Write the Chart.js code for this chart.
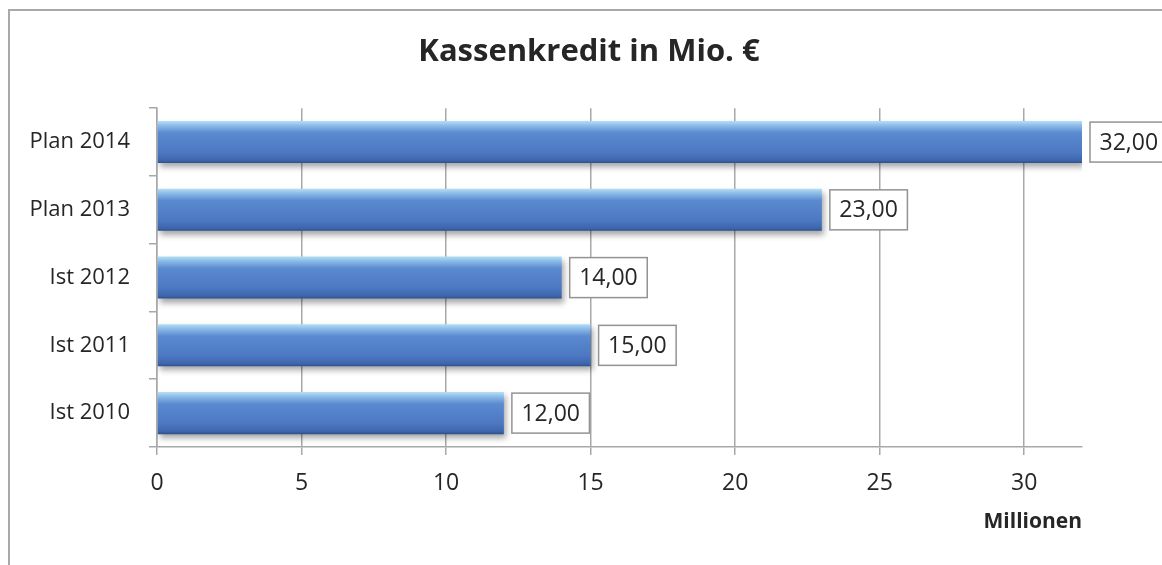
<!DOCTYPE html>
<html lang="de">
<head>
  <meta charset="UTF-8">
  <title>Kassenkredit in Mio. €</title>
  <script src="https://cdn.jsdelivr.net/npm/chart.js"></script>
  <style>
    html, body { margin: 0; padding: 0; background: #fff; overflow: hidden; }
    .frame {
      position: absolute; left: 8px; top: 9px; width: 1300px; height: 700px;
      border-left: 2px solid #a9a9a9; border-top: 2px solid #a9a9a9;
    }
    #chart { position: absolute; left: 0; top: 0; }
  </style>
</head>
<body>
  <div class="frame"></div>
  <canvas id="chart" width="1162" height="565"></canvas>

  <script>
    // data
    const categories = ['Plan 2014', 'Plan 2013', 'Ist 2012', 'Ist 2011', 'Ist 2010'];
    const values = [32, 23, 14, 15, 12];
    const xTickValues = [0, 5, 10, 15, 20, 25, 30];
    const xMax = 32;

    const textColor = '#262626';
    const lineColor = '#a8a8a8';
    const font = '"Open Sans", sans-serif';
    const barPct = 0.62;
    const padLeft = 20;
    const padRight = 4;

    function barFill(c) {
      const chart = c.chart;
      const ys = chart.scales.y;
      if (!ys || c.type !== 'data') return '#4f81bd';
      const yc = ys.getPixelForValue(c.dataIndex);
      const half = ys.height / categories.length * barPct / 2;
      if (!isFinite(yc) || !isFinite(half) || half <= 0) return '#4f81bd';
      const g = chart.ctx.createLinearGradient(0, yc - half, 0, yc + half);
      g.addColorStop(0, '#b5def5');
      g.addColorStop(0.1, '#8dbde9');
      g.addColorStop(0.28, '#5b8ad0');
      g.addColorStop(0.75, '#4c78c2');
      g.addColorStop(0.94, '#3d65ab');
      g.addColorStop(1, '#2c4e8c');
      return g;
    }

    // drop shadow under the bars
    const barShadow = {
      id: 'barShadow',
      beforeDatasetsDraw(chart) {
        const ctx = chart.ctx;
        ctx.save();
        ctx.shadowColor = 'rgba(0,0,0,0.35)';
        ctx.shadowBlur = 6;
        ctx.shadowOffsetX = 2;
        ctx.shadowOffsetY = 4;
      },
      afterDatasetsDraw(chart) {
        chart.ctx.restore();
      }
    };

    // boxed value labels right of each bar
    const valueBoxes = {
      id: 'valueBoxes',
      afterDatasetsDraw(chart) {
        const ctx = chart.ctx;
        const meta = chart.getDatasetMeta(0);
        ctx.save();
        ctx.font = '23px ' + font;
        ctx.textAlign = 'center';
        ctx.textBaseline = 'middle';
        meta.data.forEach((bar, i) => {
          const txt = values[i].toFixed(2).replace('.', ',');
          const w = ctx.measureText(txt).width + 19;
          const h = 40;
          const x = bar.x + 8;
          const y = bar.y - h / 2;
          ctx.fillStyle = '#fff';
          ctx.fillRect(x, y, w, h);
          ctx.strokeStyle = '#939393';
          ctx.lineWidth = 1.5;
          ctx.strokeRect(x, y, w, h);
          ctx.fillStyle = textColor;
          ctx.fillText(txt, x + w / 2, bar.y + 1);
        });
        ctx.restore();
      }
    };

    new Chart(document.getElementById('chart'), {
      type: 'bar',
      data: {
        labels: categories,
        datasets: [{
          data: values,
          backgroundColor: barFill,
          borderWidth: 0,
          barPercentage: barPct,
          categoryPercentage: 1
        }]
      },
      options: {
        indexAxis: 'y',
        responsive: false,
        animation: false,
        devicePixelRatio: 1,
        layout: { padding: { top: 0, right: padRight, bottom: 0, left: padLeft } },
        plugins: {
          legend: { display: false },
          tooltip: { enabled: false },
          title: {
            display: true,
            text: 'Kassenkredit in Mio. €',
            color: textColor,
            font: { family: font, size: 31, weight: 'bold' },
            padding: { top: 34, bottom: 37 }
          }
        },
        scales: {
          y: {
            afterFit(scale) { scale.width = 157 - padLeft; },
            grid: {
              drawOnChartArea: false,
              offset: true,
              tickLength: 8,
              color: lineColor,
              lineWidth: 1.5
            },
            border: { color: lineColor, width: 1.5 },
            ticks: {
              color: textColor,
              font: { family: font, size: 22 },
              padding: 19
            }
          },
          // empty right-hand axis that only reserves room for the value boxes
          yRight: {
            type: 'category',
            position: 'right',
            labels: categories,
            afterFit(scale) { scale.width = 1162 - padRight - 1082; },
            grid: { display: false },
            border: { display: false },
            ticks: { display: false }
          },
          x: {
            min: 0,
            max: xMax,
            afterBuildTicks(scale) { scale.ticks = xTickValues.map(v => ({ value: v })); },
            afterFit(scale) { scale.height = 118; },
            grid: { color: lineColor, lineWidth: 1.5, tickLength: 8 },
            border: { color: lineColor, width: 1.5 },
            ticks: {
              color: textColor,
              font: { family: font, size: 23 },
              padding: 15
            },
            title: {
              display: true,
              text: 'Millionen',
              align: 'end',
              color: textColor,
              font: { family: font, size: 21, weight: 'bold' },
              padding: { top: 0, bottom: 30 }
            }
          }
        }
      },
      plugins: [barShadow, valueBoxes]
    });
  </script>
</body>
</html>
